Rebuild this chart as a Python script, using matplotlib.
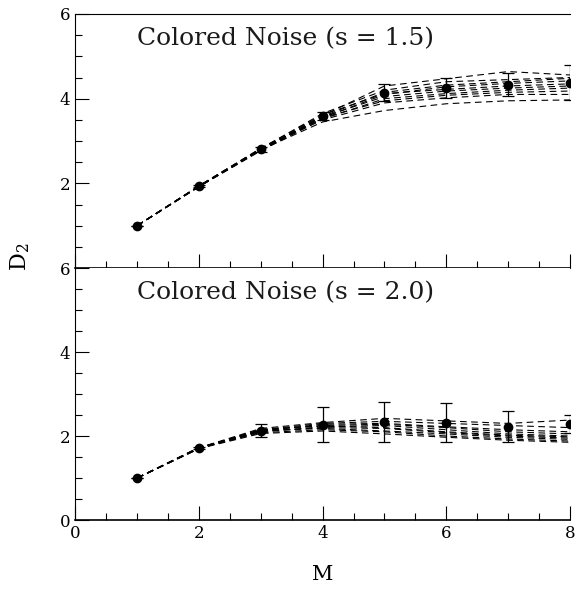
import matplotlib
matplotlib.use("Agg")
import matplotlib.pyplot as plt
from matplotlib.ticker import MultipleLocator
import numpy as np

M = [1, 2, 3, 4, 5, 6, 7, 8]

# Top panel: s = 1.5
top_curves = [
    [1.0, 1.93, 2.80, 3.60, 4.30, 4.47, 4.64, 4.56],
    [1.0, 1.94, 2.82, 3.65, 4.20, 4.40, 4.45, 4.50],
    [1.0, 1.93, 2.78, 3.58, 4.15, 4.32, 4.40, 4.48],
    [1.0, 1.92, 2.79, 3.55, 4.10, 4.28, 4.36, 4.42],
    [1.0, 1.94, 2.83, 3.62, 4.12, 4.22, 4.30, 4.35],
    [1.0, 1.93, 2.81, 3.57, 4.05, 4.18, 4.25, 4.30],
    [1.0, 1.92, 2.77, 3.52, 4.00, 4.12, 4.20, 4.25],
    [1.0, 1.93, 2.80, 3.55, 3.95, 4.08, 4.15, 4.18],
    [1.0, 1.94, 2.82, 3.50, 3.90, 4.02, 4.10, 4.10],
    [1.0, 1.93, 2.79, 3.45, 3.72, 3.88, 3.95, 3.97],
]
top_mean = [1.0, 1.93, 2.81, 3.59, 4.14, 4.25, 4.33, 4.38]
top_err = [0.0, 0.02, 0.06, 0.10, 0.20, 0.23, 0.27, 0.42]

# Bottom panel: s = 2.0
bot_curves = [
    [1.0, 1.72, 2.18, 2.32, 2.42, 2.36, 2.30, 2.38],
    [1.0, 1.71, 2.15, 2.30, 2.35, 2.30, 2.25, 2.20],
    [1.0, 1.73, 2.12, 2.28, 2.30, 2.22, 2.15, 2.10],
    [1.0, 1.70, 2.14, 2.25, 2.28, 2.20, 2.10, 2.05],
    [1.0, 1.72, 2.10, 2.22, 2.25, 2.15, 2.05, 2.00],
    [1.0, 1.71, 2.16, 2.24, 2.20, 2.10, 2.02, 1.98],
    [1.0, 1.70, 2.11, 2.20, 2.18, 2.08, 2.00, 1.95],
    [1.0, 1.72, 2.13, 2.18, 2.12, 2.05, 1.97, 1.92],
    [1.0, 1.71, 2.08, 2.15, 2.10, 2.00, 1.93, 1.88],
    [1.0, 1.70, 2.06, 2.12, 2.05, 1.97, 1.90, 1.85],
]
bot_mean = [1.0, 1.71, 2.13, 2.27, 2.34, 2.32, 2.22, 2.28]
bot_err = [0.0, 0.02, 0.16, 0.42, 0.48, 0.47, 0.37, 0.22]

titles = ["Colored Noise (s = 1.5)", "Colored Noise (s = 2.0)"]
x_ticks = [0, 2, 4, 6, 8]
y_ticks = [0, 2, 4, 6]
top_y_labels = ["", "2", "4", "6"]

plt.rcParams['font.family'] = ['DejaVu Serif']
plt.rcParams['mathtext.fontset'] = 'dejavuserif'

fig = plt.figure(figsize=(5.76, 5.93), dpi=100)
left, right = 0.1307, 0.9896
bottom, mid, top = 0.1231, 0.548, 0.9764
ax_top = fig.add_axes([left, mid, right - left, top - mid])
ax_bot = fig.add_axes([left, bottom, right - left, mid - bottom])

panels = [(ax_top, top_curves, top_mean, top_err, titles[0]),
          (ax_bot, bot_curves, bot_mean, bot_err, titles[1])]

for ax, curves, mean, err, title in panels:
    for c in curves:
        ax.plot(M, c, color='black', lw=0.8, ls=(0, (6, 4)))
    ax.errorbar(M, mean, yerr=err, fmt='o', color='black', ms=6,
                elinewidth=0.9, capsize=4, capthick=0.9)
    ax.set_xlim(0, 8)
    ax.set_ylim(0, 6)
    ax.xaxis.set_minor_locator(MultipleLocator(0.5))
    ax.yaxis.set_minor_locator(MultipleLocator(0.5))
    ax.tick_params(which='major', direction='in', length=10, width=0.8,
                   labelsize=12, top=False, right=False)
    ax.tick_params(which='minor', direction='in', length=5, width=0.8,
                   top=False, right=False)
    ax.spines['right'].set_visible(False)
    ax.spines['left'].set_linewidth(0.8)
    ax.spines['bottom'].set_linewidth(1.2)
    ax.set_xticks(x_ticks)
    ax.set_yticks(y_ticks)
    ax.text(1.0, 5.41, title, fontsize=18, color='#1a1a1a',
            ha='left', va='center')

ax_top.set_yticklabels(top_y_labels)
ax_top.spines['top'].set_linewidth(0.8)
ax_bot.spines['top'].set_visible(False)
ax_top.tick_params(labelbottom=False)
ax_bot.set_xlabel('M', fontsize=15, labelpad=17)
fig.text(0.035, 0.567, r'D$_2$', fontsize=16, rotation=90, ha='center', va='center')

fig.savefig('out.png', dpi=100)
